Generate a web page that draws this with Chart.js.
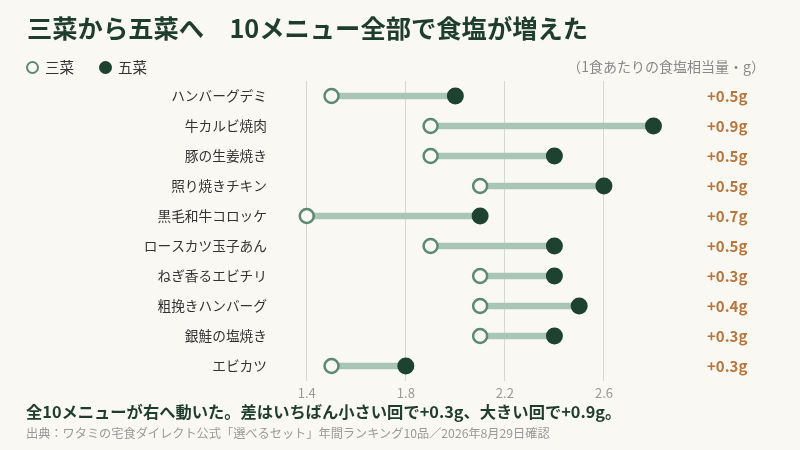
<!DOCTYPE html>
<html lang="ja">
<head>
<meta charset="UTF-8">
<title>三菜から五菜へ</title>
<script src="https://cdn.jsdelivr.net/npm/chart.js"></script>
<style>
  body { margin: 0; background: #f9f8f3; font-family: "Noto Sans CJK JP", sans-serif; }
  .wrap { position: relative; width: 800px; height: 450px; overflow: hidden; }
  #chart { position: absolute; left: 0; top: 0; }
  .title { position: absolute; left: 27px; top: 9px; font-size: 25.3px; font-weight: bold; color: #1f3d2c; white-space: nowrap; }
  .legend { position: absolute; left: 26px; top: 56px; font-size: 14.5px; color: #333; white-space: nowrap; }
  .legend span.dot { display: inline-block; width: 9px; height: 9px; border-radius: 50%; vertical-align: -1px; margin-right: 6px; }
  .legend .open { border: 2.5px solid #5b8a70; background: #f9f8f3; }
  .legend .full { border: 2.5px solid #1d4330; background: #1d4330; margin-left: 25px; }
  .unit { position: absolute; right: 35px; top: 56px; font-size: 14px; color: #888; }
  .note { position: absolute; left: 26px; top: 399px; font-size: 16.3px; font-weight: bold; color: #1f3d2c; white-space: nowrap; }
  .src { position: absolute; left: 26px; top: 424px; font-size: 12.2px; color: #999; white-space: nowrap; }
</style>
</head>
<body>
<div class="wrap">
  <canvas id="chart" width="800" height="450"></canvas>
  <div class="title">三菜から五菜へ　10メニュー全部で食塩が増えた</div>
  <div class="legend"><span class="dot open"></span>三菜<span class="dot full"></span>五菜</div>
  <div class="unit">（1食あたりの食塩相当量・g）</div>
  <div class="note">全10メニューが右へ動いた。差はいちばん小さい回で+0.3g、大きい回で+0.9g。</div>
  <div class="src">出典：ワタミの宅食ダイレクト公式「選べるセット」年間ランキング10品／2026年8月29日確認</div>
</div>
<script>
// メニュー名
const menus = ['ハンバーグデミ', '牛カルビ焼肉', '豚の生姜焼き', '照り焼きチキン', '黒毛和牛コロッケ',
  'ロースカツ玉子あん', 'ねぎ香るエビチリ', '粗挽きハンバーグ', '銀鮭の塩焼き', 'エビカツ'];
// 三菜・五菜の食塩相当量 (g)
const sansai = [1.5, 1.9, 1.9, 2.1, 1.4, 1.9, 2.1, 2.1, 2.1, 1.5];
const gosai  = [2.0, 2.8, 2.4, 2.6, 2.1, 2.4, 2.4, 2.5, 2.4, 1.8];
// 右側の差ラベル
const diffLabels = ['+0.5g', '+0.9g', '+0.5g', '+0.5g', '+0.7g', '+0.5g', '+0.3g', '+0.4g', '+0.3g', '+0.3g'];
// x軸の目盛り
const xTicks = [1.4, 1.8, 2.2, 2.6];

const bg = '#f9f8f3';
const font = '"Noto Sans CJK JP", sans-serif';

new Chart(document.getElementById('chart'), {
  type: 'bar',
  data: {
    labels: menus,
    datasets: [
      {
        type: 'line', label: '五菜', data: gosai, showLine: false,
        pointRadius: 8.5, pointBackgroundColor: '#1d4330', pointBorderColor: '#1d4330', pointBorderWidth: 0,
        order: 0
      },
      {
        type: 'line', label: '三菜', data: sansai, showLine: false,
        pointRadius: 7, pointBackgroundColor: bg, pointBorderColor: '#5b8a70', pointBorderWidth: 2.5,
        order: 1
      },
      {
        label: '差', data: menus.map((m, i) => [sansai[i], gosai[i]]),
        backgroundColor: '#a9c5b3', barThickness: 6, borderSkipped: false,
        order: 2
      }
    ]
  },
  options: {
    indexAxis: 'y',
    responsive: false,
    animation: false,
    layout: { padding: { top: 81, bottom: 0, left: 0, right: 0 } },
    plugins: { legend: { display: false }, tooltip: { enabled: false } },
    scales: {
      x: {
        min: 1.3, max: 3.0,
        afterBuildTicks: s => { s.ticks = xTicks.map(v => ({ value: v })); },
        afterFit: s => { s.height = 69; },
        grid: { color: '#d6d6d2', drawTicks: false },
        border: { display: false },
        ticks: { padding: 4, color: '#999', font: { family: font, size: 13 }, callback: v => v.toFixed(1) }
      },
      y: {
        position: 'left',
        offset: true,
        afterFit: s => { s.width = 282; },
        grid: { display: false, drawTicks: false },
        border: { display: false },
        ticks: { padding: 15, color: '#333', font: { family: font, size: 13.7 } }
      },
      y2: {
        type: 'category',
        position: 'right',
        labels: diffLabels,
        offset: true,
        afterFit: s => { s.width = 97; },
        grid: { display: false, drawTicks: false },
        border: { display: false },
        ticks: { padding: 4, color: '#b8743a', font: { family: font, size: 15, weight: 'bold' } }
      }
    }
  }
});
</script>
</body>
</html>
